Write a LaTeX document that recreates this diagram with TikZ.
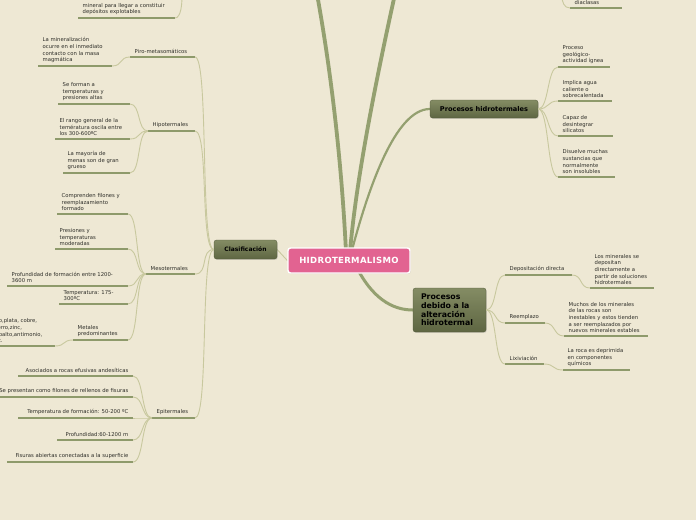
\documentclass[tikz,border=0pt]{standalone}
\usepackage{fontspec}
\setmainfont{DejaVu Sans}
\newfontfamily\mainlabelfont[LetterSpace=4]{DejaVu Sans}
\usetikzlibrary{shadows}
\pgfdeclarelayer{backdrop}
\pgfdeclarelayer{bglayer}
\pgfsetlayers{backdrop,bglayer,main}
\definecolor{bgc}{RGB}{238,232,212}
\definecolor{ulc}{RGB}{142,154,107}
\definecolor{thinc}{RGB}{200,200,158}
\definecolor{branchc}{RGB}{148,160,112}
\definecolor{pinkm}{RGB}{226,99,145}
\definecolor{boxtop}{RGB}{132,140,100}
\definecolor{boxbot}{RGB}{94,102,66}
\definecolor{txtc}{RGB}{45,45,40}
\tikzset{
  leaf/.style={inner sep=0pt, font=\fontsize{5.3}{6.7}\selectfont, text=txtc},
  uline/.style={draw=ulc, line width=2.8pt},
  conn/.style={draw=thinc, line width=0.9pt},
  topic/.style={rounded corners=2.5pt, top color=boxtop, bottom color=boxbot,
    draw=boxbot!85!black, line width=0.3pt, text=black, inner sep=0pt,
    drop shadow={opacity=0.25, shadow xshift=0.8pt, shadow yshift=-0.9pt}},
  mainnode/.style={rounded corners=2.5pt, fill=pinkm, draw=white, line width=1.4pt,
    text=white, inner sep=0pt, minimum width=122pt, minimum height=25pt,
    font=\mainlabelfont\fontsize{8.5}{10}\selectfont\bfseries,
    drop shadow={opacity=0.2, shadow xshift=0.8pt, shadow yshift=-0.9pt}},
  branch/.style={draw=branchc, line cap=round}
}
\newcommand\leafL[5]{%
  \coordinate (#1l) at (#2,#4);
  \coordinate (#1r) at (#3,#4);
  \draw[uline] (#1l) -- (#1r);
  \node[leaf,align=left,anchor=south west] (#1) at (#2+4.5,#4-2.8) {#5};}
\newcommand\leafR[5]{%
  \coordinate (#1l) at (#2,#4);
  \coordinate (#1r) at (#3,#4);
  \draw[uline] (#1l) -- (#1r);
  \node[leaf,align=right,anchor=south east] (#1) at (#3-4.5,#4-2.8) {#5};}
\newcommand\connL[2]{\draw[conn] (#1) .. controls +(-11,0) and +(11,0) .. (#2);}
\newcommand\connR[2]{\draw[conn] (#1) .. controls +(11,0) and +(-11,0) .. (#2);}
\begin{document}
\begin{tikzpicture}[x=1pt,y=-1pt]
\useasboundingbox (0,0) rectangle (696,520);
\begin{pgfonlayer}{backdrop}
\fill[bgc] (0,0) rectangle (696,520);
\end{pgfonlayer}

% central topics
\node[mainnode] (main) at (349,260.5) {HIDROTERMALISMO};
\node[topic, minimum width=63pt, minimum height=19pt, font=\fontsize{6}{7}\selectfont\bfseries] (clas) at (245.5,249.5) {Clasificación};
\node[topic, minimum width=108pt, minimum height=18pt, font=\fontsize{6.6}{8}\selectfont\bfseries] (ph) at (484,109) {Procesos hidrotermales};
\node[topic, minimum width=73pt, minimum height=44pt, align=left, text width=57pt, font=\fontsize{7.8}{8.6}\selectfont\bfseries] (pd) at (449.5,310) {Procesos\\debido a la\\alteración\\hidrotermal};

\coordinate (upL) at (317,-6);
\coordinate (upR) at (395,-6);
\coordinate (bL) at (346,252);
\coordinate (bR) at (350,252);
\coordinate (bH) at (352,250);
\coordinate (bD) at (356,266);

\begin{pgfonlayer}{bglayer}
\draw[branch, line width=3.8pt] (bL) .. controls (341,150) and (329,60) .. (upL);
\draw[branch, line width=3.8pt] (bR) .. controls (356,180) and (376,80) .. (upR);
\draw[branch, line width=2.2pt] (bH) .. controls (368,190) and (395,109) .. (ph.west);
\draw[branch, line width=3pt] (bD) .. controls (372,298) and (392,310) .. (pd.west);
\draw[conn] (clas.east) -- (main.west);
\end{pgfonlayer}

% ---------- left: Clasificacion ----------
\leafL{pir}{130}{195}{57}{Piro-metasomáticos}
\leafL{hip}{148}{195}{131}{Hipotermales}
\leafL{mes}{146}{195}{274}{Mesotermales}
\leafL{epi}{152}{195}{418}{Epitermales}
\draw[conn] (clas.west) .. controls +(-14,0) and +(14,0) .. (pirr);
\draw[conn] (clas.west) .. controls +(-14,0) and +(14,0) .. (hipr);
\draw[conn] (clas.west) .. controls +(-14,0) and +(14,0) .. (mesr);
\draw[conn] (clas.west) .. controls +(-14,0) and +(14,0) .. (epir);

\leafL{top}{78}{175}{18}{mineral para llegar a constituir\\depósitos explotables}
\coordinate (topP) at (182,-4);
\draw[conn] (topr) .. controls +(6,0) and +(0,8) .. (topP);

\leafL{pira}{38}{112}{66}{La mineralización\\ocurre en el inmediato\\contacto con la masa\\magmática}
\connL{pirl}{pirar}

\leafL{hipa}{58}{130}{104}{Se forman a\\temperaturas y\\presiones altas}
\leafL{hipb}{55}{130}{139}{El rango general de la\\temératura oscila entre\\los 300-600ºC}
\leafL{hipc}{63}{130}{173}{La mayoría de\\menas son de gran\\grueso}
\connL{hipl}{hipar}
\connL{hipl}{hipbr}
\connL{hipl}{hipcr}

\leafL{mesa}{57}{128}{214}{Comprenden filones y\\reemplazamiento\\formado}
\leafL{mesb}{55}{128}{249}{Presiones y\\temperaturas\\moderadas}
\leafL{mesc}{7}{128}{286}{Profundidad de formación entre 1200-\\3600 m}
\leafL{mesd}{59}{128}{304}{Temperatura: 175-\\300ºC}
\leafL{mese}{73}{128}{340}{Metales\\predominantes}
\connL{mesl}{mesar}
\connL{mesl}{mesbr}
\connL{mesl}{mescr}
\connL{mesl}{mesdr}
\connL{mesl}{meser}
\leafL{met}{-12}{55}{346}{Oro,plata, cobre,\\hierro,zinc,\\cobalto,antimonio,\\etc.}
\connL{mesel}{metr}

\leafR{epia}{18}{133}{376}{Asociados a rocas efusivas andesíticas}
\leafR{epib}{-6}{133}{397}{Se presentan como filones de rellenos de fisuras}
\leafR{epic}{18}{133}{418}{Temperatura de formación: 50-200 ºC}
\leafR{epid}{57}{133}{440}{Profundidad:60-1200 m}
\leafR{epie}{7}{133}{462}{Fisuras abiertas conectadas a la superficie}
\connL{epil}{epiar}
\connL{epil}{epibr}
\connL{epil}{epicr}
\connL{epil}{epidr}
\connL{epil}{epier}

% ---------- right: Procesos hidrotermales ----------
\leafL{pha}{558}{610}{67}{Proceso\\geológico-\\actividad ígnea}
\leafL{phb}{558}{612}{101}{Implica agua\\caliente o\\sobrecalentada}
\leafL{phc}{558}{613}{136}{Capaz de\\desintegrar\\silicatos}
\leafL{phd}{558}{615}{177}{Disuelve muchas\\sustancias que\\normalmente\\son insolubles}
\connR{ph.east}{phal}
\connR{ph.east}{phbl}
\connR{ph.east}{phcl}
\connR{ph.east}{phdl}

\leafL{dia}{570}{622}{8}{diaclasas}
\coordinate (diaP) at (562,-4);
\draw[conn] (dial) .. controls +(-6,0) and +(0,6) .. (diaP);

% ---------- right: Procesos debido ----------
\leafL{pda}{505}{572}{275}{Depositación directa}
\leafL{pdb}{505}{545}{323}{Reemplazo}
\leafL{pdc}{505}{544}{364}{Lixiviación}
\connR{pd.east}{pdal}
\connR{pd.east}{pdbl}
\connR{pd.east}{pdcl}

\leafL{pdaa}{590}{654}{288}{Los minerales se\\depositan\\directamente a\\partir de soluciones\\hidrotermales}
\leafL{pdba}{564}{648}{336}{Muchos de los minerales\\de las rocas son\\inestables y estos tienden\\a ser reemplazados por\\nuevos minerales estables}
\leafL{pdca}{563}{630}{370}{La roca es deprimida\\en componentes\\químicos}
\connR{pdar}{pdaal}
\connR{pdbr}{pdbal}
\connR{pdcr}{pdcal}
\end{tikzpicture}
\end{document}
